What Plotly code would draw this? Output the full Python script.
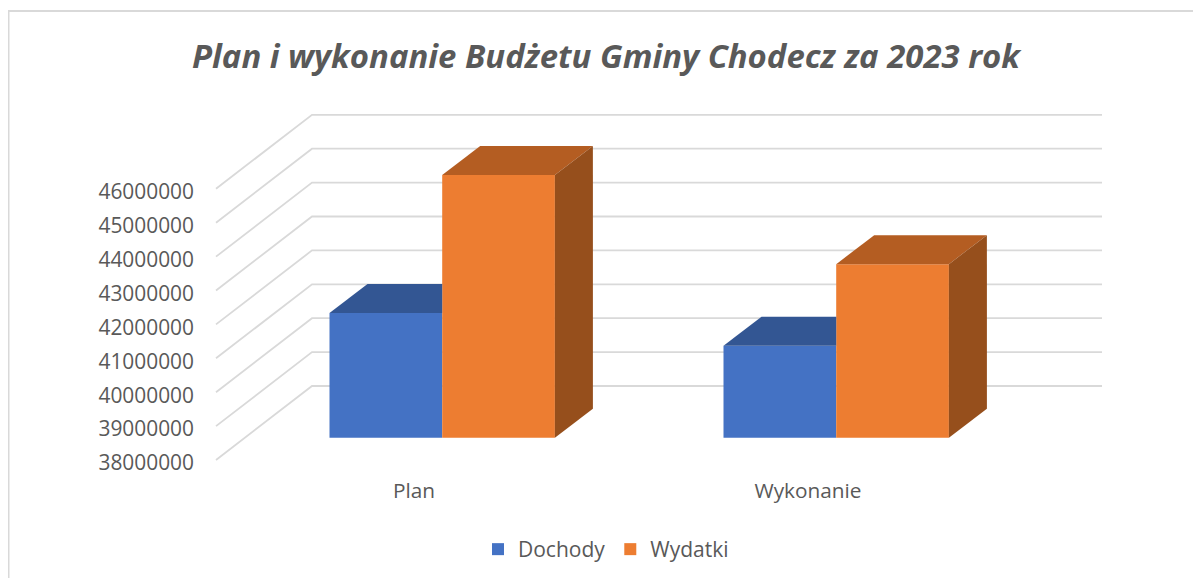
import plotly.graph_objects as go

# --- data ---
categories = ["Plan", "Wykonanie"]
dochody = [41680000, 40710000]
wydatki = [45750000, 43120000]
tick_values = [38000000, 39000000, 40000000, 41000000, 42000000,
               43000000, 44000000, 45000000, 46000000]
title = "Plan i wykonanie Budżetu Gminy Chodecz za 2023 rok"

# --- geometry / style (pixel constants are page pixels; the page body adds 8 px) ---
PAGE = 8
W, H = 1201 - PAGE, 578 - PAGE
ML, MR, MT, MB = 192, 91, 92, 102
PX_PER_CAT = 394.0
PX_PER_UNIT = 33.9 / 1e6
CAT0_PX = 414.0 - PAGE
Y0_PX = 460.0 - PAGE
x_range = [(ML - CAT0_PX) / PX_PER_CAT, (W - MR - CAT0_PX) / PX_PER_CAT]
y_range = [38e6 + (Y0_PX - (H - MB)) / PX_PER_UNIT, 38e6 + (Y0_PX - MT) / PX_PER_UNIT]

def dx(px):
    return px / PX_PER_CAT
def dy(px):
    return px / PX_PER_UNIT
def xp(px):
    return (px - PAGE - CAT0_PX) / PX_PER_CAT

GRID = "#d9d9d9"
TXT = "#595959"
FONT = "Open Sans"
BLUE, BLUE_TOP = "#4472C4", "#335693"
ORANGE, ORANGE_TOP, ORANGE_SIDE = "#ED7D31", "#B45D22", "#964F1C"

bar_w = dx(112.7)
off_d = dx(-84.5)
off_w = off_d + bar_w
depth_x, depth_y = dx(38), dy(29)
lift = dy(22.3)           # bars stand forward of the front axis plane
base = tick_values[0] + lift

fig = go.Figure()

def poly(xs, ys, color):
    fig.add_trace(go.Scatter(x=xs + xs[:1], y=ys + ys[:1], mode="lines", fill="toself",
                             fillcolor=color, line=dict(width=0, color=color),
                             showlegend=False, hoverinfo="skip"))

xs_cat = list(range(len(categories)))
fig.add_trace(go.Bar(name="Dochody", x=xs_cat, y=[v - tick_values[0] for v in dochody],
                     base=base, width=bar_w, offset=off_d, marker=dict(color=BLUE, line=dict(width=0))))
fig.add_trace(go.Bar(name="Wydatki", x=xs_cat, y=[v - tick_values[0] for v in wydatki],
                     base=base, width=bar_w, offset=off_w, marker=dict(color=ORANGE, line=dict(width=0))))

for i in xs_cat:
    # Dochody roof, cut where the taller Wydatki front face begins
    x0, x1 = i + off_d, i + off_w
    t = dochody[i] + lift
    poly([x0, x1, x1, x0 + depth_x], [t, t, t + depth_y, t + depth_y], BLUE_TOP)
    # Wydatki roof and side
    x0, x1 = i + off_w, i + off_w + bar_w
    t = wydatki[i] + lift
    poly([x0, x1, x1 + depth_x, x0 + depth_x], [t, t, t + depth_y, t + depth_y], ORANGE_TOP)
    poly([x1, x1 + depth_x, x1 + depth_x, x1], [base, base + depth_y, t + depth_y, t], ORANGE_SIDE)

shapes = []
for v in tick_values:
    back = v + dy(74)
    shapes.append(dict(type="path", layer="below", xref="x", yref="y",
                       path=f"M {xp(216)},{v} L {xp(312)},{back} L {xp(1102)},{back}",
                       line=dict(color=GRID, width=1.8)))
# outer chart frame, running off the right and bottom of the picture
pw, ph = W - ML - MR, H - MT - MB
shapes.append(dict(type="rect", layer="below", xref="paper", yref="paper",
                   x0=(8.5 - PAGE - ML) / pw, x1=(W + 20 - ML) / pw,
                   y0=(H - MB - (H + 20)) / ph, y1=(H - MB - (11 - PAGE)) / ph,
                   line=dict(color=GRID, width=2)))

fig.update_layout(
    width=W, height=H, margin=dict(l=ML, r=MR, t=MT, b=MB),
    paper_bgcolor="white", plot_bgcolor="rgba(0,0,0,0)",
    font=dict(family=FONT, color=TXT, size=20),
    title=dict(text=f"<b><i>{title}</i></b>", x=((192 + 1020) / 2 - PAGE) / W, xanchor="center",
               y=1 - (56 - PAGE) / H, yanchor="middle", font=dict(size=32.9, family=FONT, color=TXT)),
    barmode="overlay", showlegend=True,
    legend=dict(orientation="h", x=470 / W, xref="container", xanchor="left",
                y=1 - 521 / H, yref="container", yanchor="top", font=dict(size=21, color=TXT, family=FONT),
                bgcolor="rgba(0,0,0,0)", traceorder="normal"),
    shapes=shapes,
    xaxis=dict(range=x_range, tickmode="array", tickvals=xs_cat, ticktext=categories,
               showgrid=False, zeroline=False, showline=False, ticks="",
               tickfont=dict(size=20.8, color=TXT, family=FONT)),
    yaxis=dict(range=y_range, tickmode="array", tickvals=tick_values, ticktext=[str(v) for v in tick_values],
               showgrid=False, zeroline=False, showline=False, ticks="", ticklabelstandoff=5, ticklabelshift=3,
               tickfont=dict(size=20.9, color=TXT, family=FONT)),
)
fig.write_html("out.html")
